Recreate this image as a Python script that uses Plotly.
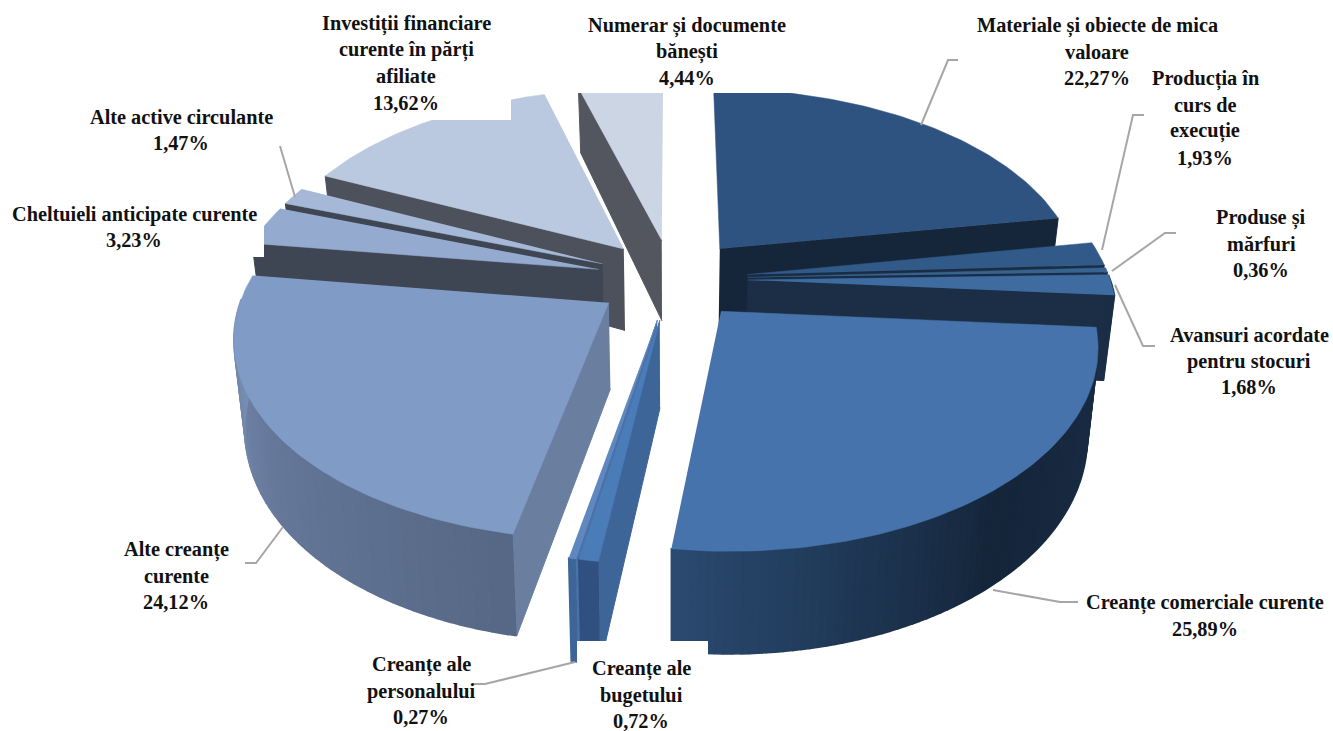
import numpy as np
import plotly.graph_objects as go

# ---- data -------------------------------------------------------------
names = [
    ["Materiale și obiecte de mica", "valoare"],
    ["Producția în", "curs de", "execuție"],
    ["Produse și", "mărfuri"],
    ["Avansuri acordate", "pentru stocuri"],
    ["Creanțe comerciale curente"],
    ["Creanțe ale", "bugetului"],
    ["Creanțe ale", "personalului"],
    ["Alte creanțe", "curente"],
    ["Cheltuieli anticipate curente"],
    ["Alte active circulante"],
    ["Investiții financiare", "curente în părți", "afiliate"],
    ["Numerar și documente", "bănești"],
]
values = [22.27, 1.93, 0.36, 1.68, 25.89, 0.72, 0.27, 24.12, 3.23, 1.47, 13.62, 4.44]

# ---- styles ------------------------------------------------------------
top_colors = ["#2f5380", "#315a88", "#36638f", "#3f6ca0", "#4673ac", "#4a7cb8",
              "#6088c0", "#7f9bc6", "#95aacf", "#a5b8d8", "#bac9df", "#ccd5e4"]
side_colors = ["#15263b", "#1a2d44", "#1a2d44", "#1b2e45", "#1b2e45", "#3d6598",
               "#4a72a8", "#6a7f9f", "#3e4553", "#3e4553", "#4d515b", "#53565e"]
rim_stops = [
    ["#15263b", "#15263b"], ["#1a2d44", "#1a2d44"], ["#1a2d44", "#1a2d44"], ["#1b2e45", "#1b2e45"],
    ["#1b2e46", "#15263b", "#2a4a70"], ["#2f5080", "#2f5080"], ["#3d6598", "#3d6598"],
    ["#566885", "#66789a", "#7f96bc"], ["#3e4553", "#3e4553"], ["#3e4553", "#3e4553"],
    ["#4d515b", "#4d515b"], ["#53565e", "#53565e"],
]
label_cx = [1097, 1205, 1261, 1249, 1205, 641, 421, 176, 134, 181, 406, 687]
label_y0 = [26, 79, 218, 335, 603, 669, 665, 550, 214, 117, 24, 26]
LINE_H = 26.2
leaders = [
    [(958, 60), (948, 60), (921, 125)],
    [(1144, 115), (1133, 115), (1102, 250)],
    [(1176, 233), (1165, 233), (1112, 271)],
    [(1155, 346), (1143, 346), (1115, 285)],
    [(1078, 602), (1060, 602), (993, 590)],
    [(473, 684), (485, 684), (575, 662)],
    [(245, 563), (256, 563), (283, 527)],
    [(280, 146), (295, 197)],
]
boxes = [(575, 0, 830, 93), (310, 0, 511, 120), (577, 641, 708, 731), (5, 205, 264, 257)]

CX, CY, SX, SY, P, EXPLODE = 672, 279, 362, 192.7, 0.152, 0.21


def project(X, Y):
    w = 1 + P * Y
    return CX + SX * X / w, CY - SY * Y / w


def drop(x, y, Y):
    return CX + (x - CX) * 0.975, y + 84 - 16 * Y


def hex_rgb(c):
    return np.array([int(c[i:i + 2], 16) for i in (1, 3, 5)], float)


def grad(stops, t):
    n = len(stops) - 1
    i = min(int(t * n), n - 1)
    f = t * n - i
    c = hex_rgb(stops[i]) * (1 - f) + hex_rgb(stops[i + 1]) * f
    return "rgb(%d,%d,%d)" % tuple(c)


fig = go.Figure()


def poly(xs, ys, color, w=1):
    fig.add_trace(go.Scatter(x=list(xs), y=list(ys), mode="lines", fill="toself",
                             fillcolor=color, line=dict(color=color, width=w),
                             hoverinfo="skip", showlegend=False))


edges = np.concatenate([[0], np.cumsum(values)]) / sum(values) * 2 * np.pi
mids = (edges[:-1] + edges[1:]) / 2
order = np.argsort(-np.cos(mids))

for i in order:
    a0, a1, am = edges[i], edges[i + 1], mids[i]
    ox, oy = EXPLODE * np.sin(am), EXPLODE * np.cos(am)
    n = max(3, int((a1 - a0) / 0.02))
    th = np.linspace(a0, a1, n)
    RX, RY = ox + np.sin(th), oy + np.cos(th)
    tx, ty = project(RX, RY)
    ax, ay = project(ox, oy)
    bx, by = drop(tx, ty, RY)
    abx, aby = drop(ax, ay, oy)
    # radial walls facing the viewer
    if np.sin(a0) < 0:      # start edge, outward normal (-cos, +sin)
        poly([ax, tx[0], bx[0], abx], [ay, ty[0], by[0], aby], side_colors[i])
    if -np.sin(a1) < 0:     # end edge, outward normal (cos, -sin)
        poly([ax, tx[-1], bx[-1], abx], [ay, ty[-1], by[-1], aby], side_colors[i])
    # outer rim, only the front-facing part
    for k in range(n - 1):
        if np.cos((th[k] + th[k + 1]) / 2) < 0.02:
            t = k / max(n - 2, 1)
            poly([tx[k], tx[k + 1], bx[k + 1], bx[k]], [ty[k], ty[k + 1], by[k + 1], by[k]],
                 grad(rim_stops[i], t), 1.6)
    poly([ax, *tx], [ay, *ty], top_colors[i], 0.5)

for pts in leaders:
    fig.add_trace(go.Scatter(x=[p[0] for p in pts], y=[p[1] for p in pts], mode="lines",
                             line=dict(color="#a6a6a6", width=2), hoverinfo="skip", showlegend=False))

shapes = [dict(type="rect", x0=b[0], y0=b[1], x1=b[2], y1=b[3], xref="x", yref="y",
               fillcolor="white", line=dict(width=0), layer="above") for b in boxes]

annotations = []
for i, lines in enumerate(names):
    all_lines = lines + [f"{values[i]:.2f}%".replace(".", ",")]
    for j, txt in enumerate(all_lines):
        annotations.append(dict(x=label_cx[i], y=label_y0[i] + j * LINE_H, text="<b>" + txt + "</b>",
                                xref="x", yref="y", showarrow=False, xanchor="center", yanchor="middle",
                                font=dict(family="Liberation Serif", size=20.3, color="#111111")))

fig.update_layout(
    width=1333, height=731, margin=dict(l=0, r=0, t=0, b=0),
    paper_bgcolor="white", plot_bgcolor="white", showlegend=False,
    xaxis=dict(range=[0, 1333], visible=False, fixedrange=True),
    yaxis=dict(range=[731, 0], visible=False, fixedrange=True),
    shapes=shapes, annotations=annotations,
)
fig.write_html("out.html", config=dict(displayModeBar=False),
               post_script="document.body.style.margin='0';document.body.style.overflow='hidden';")
